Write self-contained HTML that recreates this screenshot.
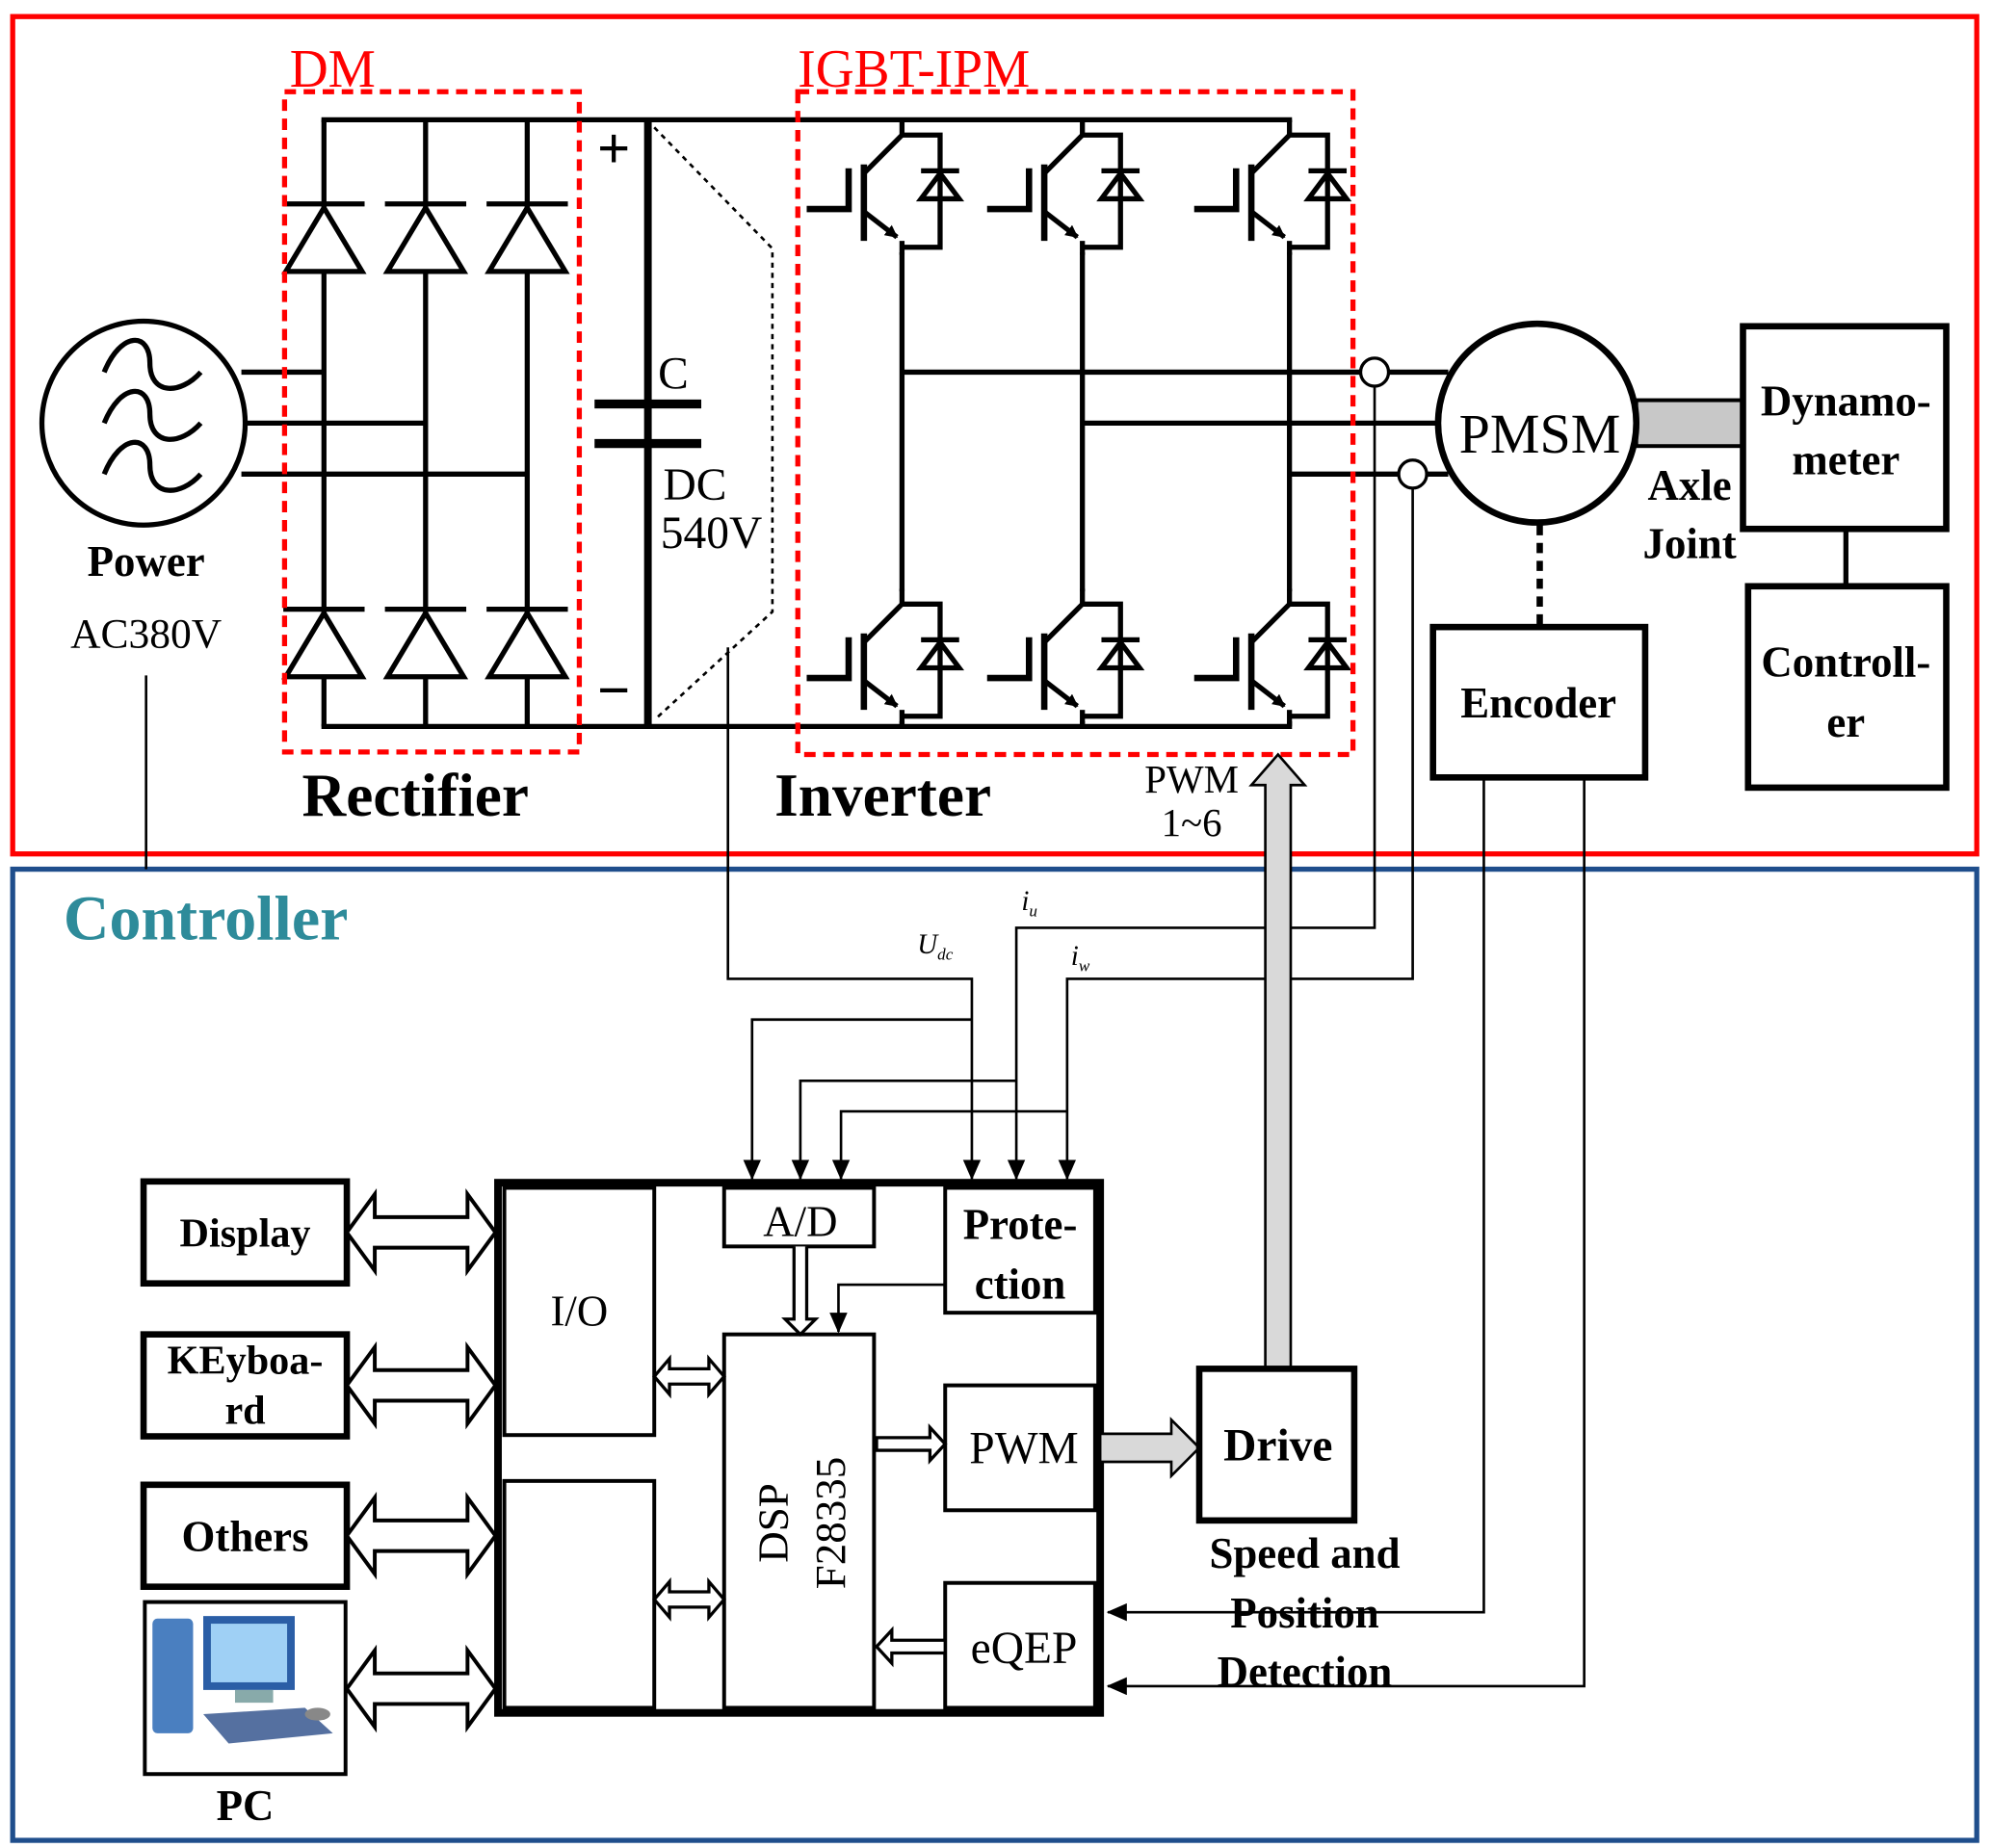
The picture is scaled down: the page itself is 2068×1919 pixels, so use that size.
<!DOCTYPE html>
<html><head><meta charset="utf-8"><style>
html,body{margin:0;padding:0;background:#fff}
svg{display:block}
text{font-family:"Liberation Serif",serif}
.b{font-weight:bold}
</style></head><body>
<svg width="2068" height="1919" viewBox="0 0 1568 1450" preserveAspectRatio="none" xmlns="http://www.w3.org/2000/svg">
<defs>
<marker id="ah" markerWidth="10" markerHeight="10" refX="9" refY="5" orient="auto" markerUnits="userSpaceOnUse"><path d="M0,0 L10,5 L0,10 z" fill="#000"/></marker>
<marker id="ah2" markerWidth="16" markerHeight="14" refX="15" refY="7" orient="auto" markerUnits="userSpaceOnUse"><path d="M0,0 L16,7 L0,14 z" fill="#000"/></marker>
<g id="igbt" fill="none" stroke="#000" stroke-width="4">
<path d="M0,0 V12 L-30,42"/>
<path d="M-30,35 V95" stroke-width="5"/>
<path d="M-30,72 L-4,92" marker-end="url(#ah)"/>
<path d="M0,95 V106"/>
<path d="M-75,70 H-42 V38" stroke-width="5"/>
<path d="M0,12 H30 V100 H0"/>
<path d="M15,62 L45,62 L30,42 z"/>
<path d="M15,40 H45"/>
</g>
<g id="diode" fill="none" stroke="#000" stroke-width="4">
<path d="M-30,53 L30,53 L0,3 z" fill="#fff"/>
<path d="M-32,0 H32"/>
</g>
<g id="darr" fill="#fff" stroke="#000" stroke-width="3">
<path d="M0,0 L22,-30 V-12 H95 V-30 L117,0 L95,30 V12 H22 V30 z"/>
</g>
<g id="sdarr" fill="#fff" stroke="#000" stroke-width="2.5">
<path d="M0,0 L12,-14 V-6 H43 V-14 L55,0 L43,14 V6 H12 V14 z"/>
</g>
</defs>

<rect x="10" y="13" width="1546" height="657" fill="none" stroke="#f00" stroke-width="4"/>
<rect x="10" y="682" width="1546" height="762" fill="none" stroke="#1f4e8c" stroke-width="4"/>
<line x1="115" y1="530" x2="115" y2="682" stroke="#000" stroke-width="2"/>

<circle cx="113" cy="332" r="80" fill="none" stroke="#000" stroke-width="4"/>
<g fill="none" stroke="#000" stroke-width="4">
<path d="M82,292 C95,260 118,260 118,285 C118,310 142,310 158,292"/>
<path d="M82,332 C95,300 118,300 118,325 C118,350 142,350 158,332"/>
<path d="M82,372 C95,340 118,340 118,365 C118,390 142,390 158,372"/>
</g>
<g stroke="#000" stroke-width="4">
<line x1="190" y1="292" x2="255" y2="292"/>
<line x1="192" y1="332" x2="335" y2="332"/>
<line x1="190" y1="372" x2="415" y2="372"/>
<line x1="253" y1="94" x2="1017" y2="94"/>
<line x1="253" y1="570" x2="1017" y2="570"/>
<line x1="255" y1="94" x2="255" y2="570"/>
<line x1="335" y1="94" x2="335" y2="570"/>
<line x1="415" y1="94" x2="415" y2="570"/>
<line x1="510" y1="94" x2="510" y2="570" stroke-width="6"/>
<line x1="468" y1="317" x2="552" y2="317" stroke-width="7"/>
<line x1="468" y1="348" x2="552" y2="348" stroke-width="7"/>
</g>
<use href="#diode" x="255" y="160"/><use href="#diode" x="335" y="160"/><use href="#diode" x="415" y="160"/>
<use href="#diode" x="255" y="478"/><use href="#diode" x="335" y="478"/><use href="#diode" x="415" y="478"/>
<path d="M515,100 L608,195 V480 L515,565" fill="none" stroke="#000" stroke-width="2" stroke-dasharray="4,4"/>

<use href="#igbt" x="710" y="94"/><use href="#igbt" x="852" y="94"/><use href="#igbt" x="1015" y="94"/>
<use href="#igbt" x="710" y="462"/><use href="#igbt" x="852" y="462"/><use href="#igbt" x="1015" y="462"/>
<g stroke="#000" stroke-width="4">
<line x1="710" y1="198" x2="710" y2="464"/><line x1="852" y1="198" x2="852" y2="464"/><line x1="1015" y1="198" x2="1015" y2="464"/>
<line x1="710" y1="566" x2="710" y2="570"/><line x1="852" y1="566" x2="852" y2="570"/><line x1="1015" y1="566" x2="1015" y2="570"/>
<line x1="710" y1="292" x2="1140" y2="292"/>
<line x1="852" y1="332" x2="1134" y2="332"/>
<line x1="1015" y1="372" x2="1140" y2="372"/>
</g>
<rect x="224" y="72" width="232" height="518" fill="none" stroke="#f00" stroke-width="4" stroke-dasharray="9,6"/>
<rect x="628" y="72" width="437" height="520" fill="none" stroke="#f00" stroke-width="4" stroke-dasharray="9,6"/>
<circle cx="1082" cy="292" r="11" fill="#fff" stroke="#000" stroke-width="2.5"/>
<circle cx="1112" cy="372" r="11" fill="#fff" stroke="#000" stroke-width="2.5"/>

<rect x="1288" y="314" width="84" height="36" fill="#c8c8c8" stroke="#000" stroke-width="3"/>
<circle cx="1210" cy="332" r="78" fill="#fff" stroke="#000" stroke-width="5"/>
<rect x="1372" y="256" width="160" height="159" fill="#fff" stroke="#000" stroke-width="5"/>
<line x1="1453" y1="415" x2="1453" y2="460" stroke="#000" stroke-width="4"/>
<rect x="1376" y="460" width="156" height="158" fill="#fff" stroke="#000" stroke-width="5"/>
<line x1="1212" y1="412" x2="1212" y2="490" stroke="#000" stroke-width="5" stroke-dasharray="8,6"/>
<rect x="1128" y="492" width="167" height="118" fill="#fff" stroke="#000" stroke-width="5"/>

<g fill="none" stroke="#000" stroke-width="2">
<path d="M1168,610 V1265 H872" marker-end="url(#ah2)"/>
<path d="M1247,610 V1323 H872" marker-end="url(#ah2)"/>
<path d="M573,508 V768 H765 V925" marker-end="url(#ah2)"/>
<path d="M765,800 H592 V925" marker-end="url(#ah2)"/>
<path d="M1082,303 V728 H800 V925" marker-end="url(#ah2)"/>
<path d="M800,848 H630 V925" marker-end="url(#ah2)"/>
<path d="M1112,383 V768 H840 V925" marker-end="url(#ah2)"/>
<path d="M840,872 H662 V925" marker-end="url(#ah2)"/>
<path d="M744,1008 H660 V1045" marker-end="url(#ah2)"/>
</g>

<rect x="392" y="928" width="474" height="416" fill="none" stroke="#000" stroke-width="6"/>
<g fill="#fff" stroke="#000" stroke-width="3">
<rect x="397" y="932" width="118" height="194"/>
<rect x="397" y="1162" width="118" height="178"/>
<rect x="570" y="932" width="118" height="46"/>
<rect x="744" y="932" width="118" height="98"/>
<rect x="570" y="1047" width="118" height="293"/>
<rect x="744" y="1087" width="118" height="98"/>
<rect x="744" y="1242" width="118" height="98"/>
</g>
<use href="#sdarr" x="515" y="1080"/><use href="#sdarr" x="515" y="1255"/>
<path d="M625,978 V1035 H618 L630,1047 L642,1035 H635 V978" fill="#fff" stroke="#000" stroke-width="2.5"/>
<path d="M690,1128 H732 V1120 L744,1133 L732,1146 V1138 H690 z" fill="#fff" stroke="#000" stroke-width="2.5"/>
<path d="M744,1287 H702 V1279 L690,1292 L702,1305 V1297 H744 z" fill="#fff" stroke="#000" stroke-width="2.5"/>
<path d="M866,1125 H922 V1114 L944,1136 L922,1158 V1147 H866 z" fill="#d9d9d9" stroke="#000" stroke-width="2"/>
<path d="M996,1074 V616 H985 L1006,592 L1027,616 H1016 V1074 z" fill="#d9d9d9" stroke="#000" stroke-width="2"/>
<rect x="944" y="1074" width="122" height="119" fill="#fff" stroke="#000" stroke-width="5"/>

<g fill="#fff" stroke="#000" stroke-width="5">
<rect x="113" y="927" width="160" height="80"/>
<rect x="113" y="1047" width="160" height="80"/>
<rect x="113" y="1165" width="160" height="80"/>
<rect x="114" y="1257" width="158" height="135" stroke-width="3"/>
</g>
<use href="#darr" x="273" y="967"/><use href="#darr" x="273" y="1087"/><use href="#darr" x="273" y="1205"/><use href="#darr" x="273" y="1325"/>
<g>
<rect x="120" y="1270" width="32" height="90" rx="4" fill="#4a7fc0"/>
<rect x="160" y="1268" width="72" height="58" fill="#2b5ea6"/>
<rect x="166" y="1274" width="60" height="46" fill="#9fd0f5"/>
<rect x="185" y="1326" width="30" height="10" fill="#8aa"/>
<path d="M160,1345 L240,1340 L262,1360 L180,1368 z" fill="#5570a0"/>
<ellipse cx="250" cy="1345" rx="10" ry="5" fill="#888"/>
</g>

<g fill="#f00" font-size="42"><text x="228" y="68">DM</text><text x="628" y="68">IGBT-IPM</text></g>
<g font-size="36">
<text x="518" y="305">C</text>
<text x="470" y="132" font-size="46" font-weight="bold">+</text>
<text x="470" y="557" font-size="46" font-weight="bold">−</text>
<text x="522" y="392">DC</text>
<text x="520" y="430">540V</text>
<text x="115" y="508" text-anchor="middle" font-size="33">AC380V</text>
<text x="1212" y="355" text-anchor="middle" font-size="44">PMSM</text>
<text x="938" y="622" text-anchor="middle" font-size="31">PWM</text>
<text x="938" y="656" text-anchor="middle" font-size="31">1~6</text>
<text x="630" y="970" text-anchor="middle" font-size="34">A/D</text>
<text x="456" y="1040" text-anchor="middle" font-size="34">I/O</text>
<text x="806" y="1148" text-anchor="middle" font-size="36">PWM</text>
<text x="806" y="1305" text-anchor="middle" font-size="36">eQEP</text>
<text transform="translate(620,1195) rotate(-90)" text-anchor="middle" font-size="34">DSP</text>
<text transform="translate(665,1195) rotate(-90)" text-anchor="middle" font-size="34">F28335</text>
</g>
<g class="b" font-size="34">
<text x="115" y="452" text-anchor="middle">Power</text>
<text x="327" y="640" text-anchor="middle" font-size="48">Rectifier</text>
<text x="695" y="640" text-anchor="middle" font-size="48">Inverter</text>
<text x="1330" y="392" text-anchor="middle">Axle</text>
<text x="1330" y="438" text-anchor="middle">Joint</text>
<text x="1453" y="326" text-anchor="middle">Dynamo-</text>
<text x="1453" y="372" text-anchor="middle">meter</text>
<text x="1453" y="531" text-anchor="middle">Controll-</text>
<text x="1453" y="578" text-anchor="middle">er</text>
<text x="1211" y="563" text-anchor="middle">Encoder</text>
<text x="193" y="978" text-anchor="middle" font-size="32">Display</text>
<text x="193" y="1078" text-anchor="middle" font-size="32">KEyboa-</text>
<text x="193" y="1117" text-anchor="middle" font-size="32">rd</text>
<text x="193" y="1217" text-anchor="middle" font-size="34">Others</text>
<text x="193" y="1428" text-anchor="middle">PC</text>
<text x="803" y="972" text-anchor="middle">Prote-</text>
<text x="803" y="1019" text-anchor="middle">ction</text>
<text x="1006" y="1146" text-anchor="middle" font-size="36">Drive</text>
<text x="1027" y="1230" text-anchor="middle">Speed and</text>
<text x="1027" y="1277" text-anchor="middle">Position</text>
<text x="1027" y="1323" text-anchor="middle">Detection</text>
<text x="50" y="737" fill="#2e8b9a" font-size="50">Controller</text>
</g>
<g font-style="italic" font-size="22">
<text x="722" y="748">U<tspan font-size="13" dy="5">dc</tspan></text>
<text x="804" y="714">i<tspan font-size="13" dy="5">u</tspan></text>
<text x="843" y="757">i<tspan font-size="13" dy="5">w</tspan></text>
</g>
</svg>
</body></html>
